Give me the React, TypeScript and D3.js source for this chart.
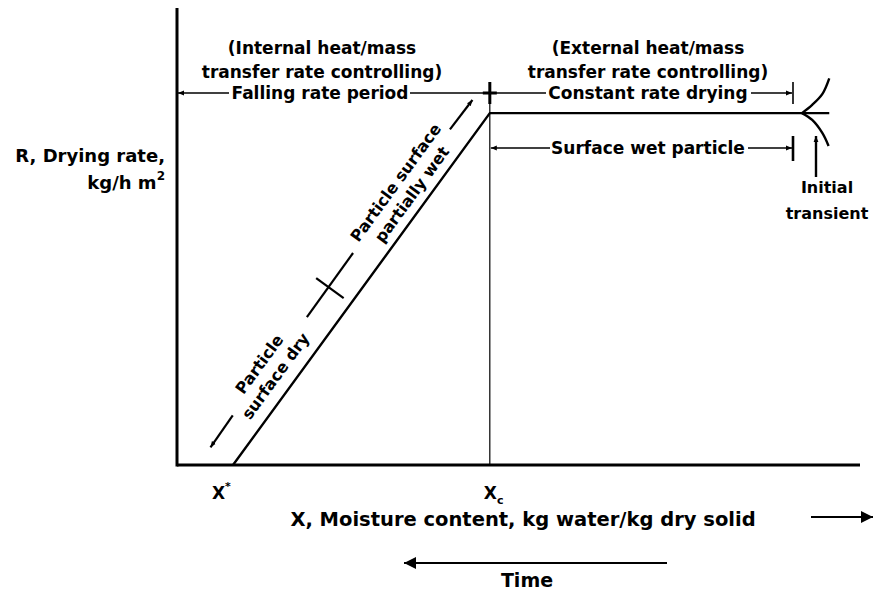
import React from "react";
import * as d3 from "d3";

// ---- data (schematic drying-rate curve, arbitrary units) ----
const dryingX = [8.2, 45.8, 95.5];        // X*, Xc, end of constant-rate line
const dryingR = [0, 77, 77];              // rate at those points
const transientUpperX = [91.5, 93, 94.5, 95.5];
const transientUpperR = [77, 78.8, 81.2, 84.6];
const transientLowerX = [91.5, 93, 94.5, 95.4];
const transientLowerR = [77, 75.5, 72.6, 69.8];
const xTickLabels = ["X*", "Xc"];
const xTickValues = [8.2, 45.8];
const periodLabels = ["Falling rate period", "Constant rate drying", "Surface wet particle"];
const regimeLabels = [
  ["(Internal heat/mass", "transfer rate controlling)"],
  ["(External heat/mass", "transfer rate controlling)"],
];

const W = 874;
const H = 590;
const FONT = "'DejaVu Sans', Verdana, sans-serif";

export default function App() {
  const x = d3.scaleLinear().domain([0, 100]).range([177, 860]);
  const y = d3.scaleLinear().domain([0, 100]).range([465, 8]);

  const line = d3.line<[number, number]>().x((d) => x(d[0])).y((d) => y(d[1]));
  const curve = d3
    .line<[number, number]>()
    .x((d) => x(d[0]))
    .y((d) => y(d[1]))
    .curve(d3.curveCatmullRom);

  const mainPts: [number, number][] = dryingX.map((v, i) => [v, dryingR[i]]);
  const upPts: [number, number][] = transientUpperX.map((v, i) => [v, transientUpperR[i]]);
  const loPts: [number, number][] = transientLowerX.map((v, i) => [v, transientLowerR[i]]);

  const xStar = x(dryingX[0]);
  const xc = x(dryingX[1]);
  const yc = y(dryingR[1]);
  const y0 = y(0);

  // diagonal geometry
  const dx = xc - xStar;
  const dy = yc - y0;
  const len = Math.hypot(dx, dy);
  const ux = dx / len, uy = dy / len; // along line (up-right)
  const nx = uy, ny = -ux; // normal pointing up-left
  const angle = (Math.atan2(dy, dx) * 180) / Math.PI;
  const P = (t: number, o: number) => [xStar + ux * t + nx * o, y0 + uy * t + ny * o];

  const text = (props: any, s: any) => (
    <text
      fontFamily={FONT}
      fontWeight="bold"
      fontSize={17}
      textAnchor="middle"
      dominantBaseline="central"
      fill="#000"
      {...props}
    >
      {s}
    </text>
  );

  const dimY1 = 93;
  const dimY2 = 148;
  const endBar = 793;

  const seg = (a: number[], b: number[], w = 2.2, marker?: string) => (
    <line x1={a[0]} y1={a[1]} x2={b[0]} y2={b[1]} stroke="#000" strokeWidth={w} markerEnd={marker} />
  );

  const lbl1 = P(97, 28);
  const lbl2 = P(324, 25);

  return (
    <div style={{ position: "fixed", left: 0, top: 0 }}>
      <svg width={W} height={H} style={{ display: "block", background: "#fff" }}>
        <defs>
          <marker id="ah" viewBox="0 0 10 10" refX="10" refY="5" markerWidth="6" markerHeight="6" orient="auto-start-reverse" markerUnits="userSpaceOnUse">
            <path d="M0,1 L10,5 L0,9 z" fill="#000" />
          </marker>
          <marker id="big" viewBox="0 0 10 10" refX="10" refY="5" markerWidth="14" markerHeight="12" orient="auto-start-reverse" markerUnits="userSpaceOnUse">
            <path d="M0,0 L10,5 L0,10 z" fill="#000" />
          </marker>
        </defs>

        {/* axes */}
        <line x1={x(0)} y1={y(100)} x2={x(0)} y2={y0 + 1.5} stroke="#000" strokeWidth={3} />
        <line x1={x(0)} y1={y0} x2={x(100)} y2={y0} stroke="#000" strokeWidth={3} />

        {/* critical moisture content guide */}
        <line x1={xc} y1={85} x2={xc} y2={y0} stroke="#000" strokeWidth={1.2} />

        {/* drying curve */}
        <path d={line(mainPts) || ""} fill="none" stroke="#000" strokeWidth={2.4} />
        <path d={curve(upPts) || ""} fill="none" stroke="#000" strokeWidth={2.4} />
        <path d={curve(loPts) || ""} fill="none" stroke="#000" strokeWidth={2.4} />

        {/* falling rate dimension */}
        <line x1={x(0) + 1} y1={dimY1} x2={229} y2={dimY1} stroke="#000" strokeWidth={1.5} markerStart="url(#ah)" />
        <line x1={410} y1={dimY1} x2={xc} y2={dimY1} stroke="#000" strokeWidth={1.5} />
        <line x1={xc} y1={82} x2={xc} y2={104} stroke="#000" strokeWidth={3} />
        <line x1={xc - 7} y1={dimY1} x2={xc + 7} y2={dimY1} stroke="#000" strokeWidth={3} />
        {text({ x: 320, y: dimY1 }, periodLabels[0])}
        {text({ x: 322, y: 48 }, regimeLabels[0][0])}
        {text({ x: 322, y: 72 }, regimeLabels[0][1])}

        {/* constant rate dimension */}
        <line x1={xc} y1={dimY1} x2={546} y2={dimY1} stroke="#000" strokeWidth={1.5} />
        <line x1={751} y1={dimY1} x2={endBar - 1} y2={dimY1} stroke="#000" strokeWidth={1.5} markerEnd="url(#ah)" />
        <line x1={endBar} y1={82} x2={endBar} y2={104} stroke="#000" strokeWidth={1.6} />
        {text({ x: 648, y: dimY1 }, periodLabels[1])}
        {text({ x: 648, y: 48 }, regimeLabels[1][0])}
        {text({ x: 648, y: 72 }, regimeLabels[1][1])}

        {/* surface wet particle */}
        <line x1={xc + 1} y1={dimY2} x2={550} y2={dimY2} stroke="#000" strokeWidth={1.5} markerStart="url(#ah)" />
        <line x1={748} y1={dimY2} x2={endBar - 1} y2={dimY2} stroke="#000" strokeWidth={1.5} markerEnd="url(#ah)" />
        <line x1={endBar} y1={136} x2={endBar} y2={161} stroke="#000" strokeWidth={2.6} />
        {text({ x: 648, y: dimY2 }, periodLabels[2])}

        {/* initial transient */}
        <line x1={816} y1={177} x2={816} y2={136} stroke="#000" strokeWidth={2.4} markerEnd="url(#ah)" />
        {text({ x: 827, y: 187, fontSize: 16 }, "Initial")}
        {text({ x: 827, y: 213, fontSize: 16 }, "transient")}

        {/* dashed annotation parallel to falling-rate line */}
        {seg(P(40, 29.5), P(1, 28.6), 2.2, "url(#ah)")}
        {seg(P(163, 27.5), P(242, 28))}
        {seg(P(200, 26 + 17), P(200, 26 - 17), 2.2)}
        {seg(P(399, 22.6), P(436, 21.8), 2.2, "url(#ah)")}
        <g transform={`translate(${lbl1[0]},${lbl1[1]}) rotate(${angle})`}>
          {text({ x: 0, y: -10, fontSize: 16 }, "Particle")}
          {text({ x: 0, y: 10, fontSize: 16 }, "surface dry")}
        </g>
        <g transform={`translate(${lbl2[0]},${lbl2[1]}) rotate(${angle})`}>
          {text({ x: 0, y: -10, fontSize: 16 }, "Particle surface")}
          {text({ x: 0, y: 10, fontSize: 16 }, "partially wet")}
        </g>

        {/* y label */}
        {text({ x: 165, y: 155, textAnchor: "end", fontSize: 18 }, "R, Drying rate,")}
        <text x={165} y={182} textAnchor="end" dominantBaseline="central" fontFamily={FONT} fontWeight="bold" fontSize={18}>
          kg/h m<tspan dy={-6} fontSize={12}>2</tspan>
        </text>

        {/* x ticks */}
        {xTickValues.map((v, i) => (
          <text key={i} x={x(v) + (i === 0 ? -21 : -6)} y={493} dominantBaseline="central" fontFamily={FONT} fontWeight="bold" fontSize={17}>
            {xTickLabels[i][0]}
            <tspan dy={i === 0 ? -7 : 7} fontSize={11}>{xTickLabels[i].slice(1)}</tspan>
          </text>
        ))}

        {/* x label & arrows */}
        {text({ x: 523, y: 519, fontSize: 19.5 }, "X, Moisture content, kg water/kg dry solid")}
        <line x1={811} y1={517} x2={873} y2={517} stroke="#000" strokeWidth={2} markerEnd="url(#big)" />
        <line x1={667} y1={563} x2={404} y2={563} stroke="#000" strokeWidth={2.2} markerEnd="url(#big)" />
        {text({ x: 527, y: 580, fontSize: 19 }, "Time")}
      </svg>
    </div>
  );
}
